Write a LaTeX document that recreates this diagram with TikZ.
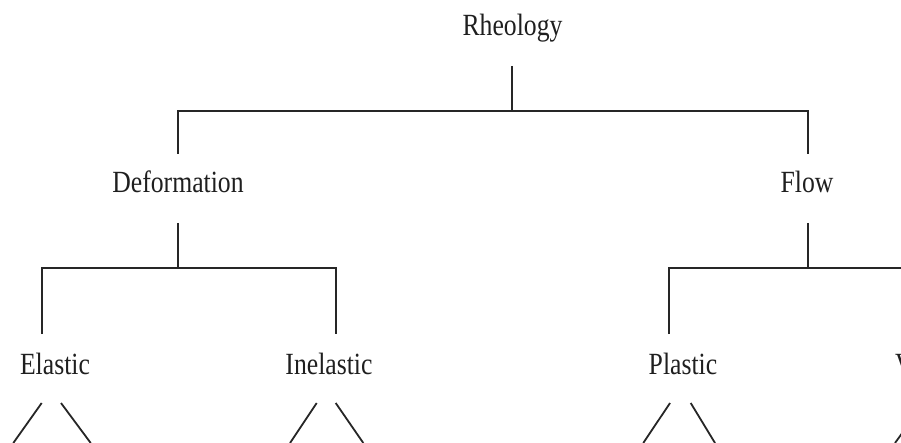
\documentclass[tikz,border=0pt]{standalone}
\usepackage{fontspec}
\setmainfont{Liberation Serif}
\begin{document}
\begin{tikzpicture}[x=1pt,y=-1pt,
  lbl/.style={anchor=base,inner sep=0pt,font=\fontsize{25.7}{30}\selectfont,text=black!88},
  tree/.style={line width=1.8pt,draw=black!85}]
\useasboundingbox (0,0) rectangle (901,443);
\clip (0,0) rectangle (901,443);
% labels
\node[lbl] (rheo) at (512.5,36) {\scalebox{1}[1.2]{Rheology}};
\node[lbl] (def) at (178,193) {\scalebox{1}[1.2]{Deformation}};
\node[lbl] (flow) at (807,193) {\scalebox{1}[1.2]{Flow}};
\node[lbl] (ela) at (55,374) {\scalebox{1}[1.2]{Elastic}};
\node[lbl] (inel) at (329,374) {\scalebox{1}[1.2]{Inelastic}};
\node[lbl] (pla) at (683,374) {\scalebox{1}[1.2]{Plastic}};
\node[lbl,anchor=base west] (vis) at (895,374) {\scalebox{1}[1.2]{V}};
% junction coordinates
\coordinate (rT) at (512,66);
\coordinate (rJ) at (512,111);
\coordinate (dT) at (178,154);
\coordinate (fT) at (808,154);
\coordinate (dB) at (178,223);
\coordinate (dJ) at (178,268);
\coordinate (eT) at (42,334);
\coordinate (iT) at (336,334);
\coordinate (fB) at (808,223);
\coordinate (fJ) at (808,268);
\coordinate (pT) at (669,334);
\coordinate (vT) at (950,334);
% tree connectors
\draw[tree] (rT) -- (rJ);
\draw[tree] (dT) |- (rJ) -| (fT);
\draw[tree] (dB) -- (dJ);
\draw[tree] (eT) |- (dJ) -| (iT);
\draw[tree] (fB) -- (fJ);
\draw[tree] (pT) |- (fJ) -| (vT);
% diagonals
\coordinate (e1) at (41.7,403); \coordinate (e1b) at (13.3,443);
\coordinate (e2) at (61,403);   \coordinate (e2b) at (90.7,443);
\coordinate (i1) at (316.7,403); \coordinate (i1b) at (290,443);
\coordinate (i2) at (335.7,403); \coordinate (i2b) at (363.3,443);
\coordinate (p1) at (670,403); \coordinate (p1b) at (643.3,443);
\coordinate (p2) at (690.7,403); \coordinate (p2b) at (715,443);
\coordinate (v1) at (924,403); \coordinate (v1b) at (895,443);
\draw[tree] (e1) -- (e1b);
\draw[tree] (e2) -- (e2b);
\draw[tree] (i1) -- (i1b);
\draw[tree] (i2) -- (i2b);
\draw[tree] (p1) -- (p1b);
\draw[tree] (p2) -- (p2b);
\draw[tree] (v1) -- (v1b);
\end{tikzpicture}
\end{document}
